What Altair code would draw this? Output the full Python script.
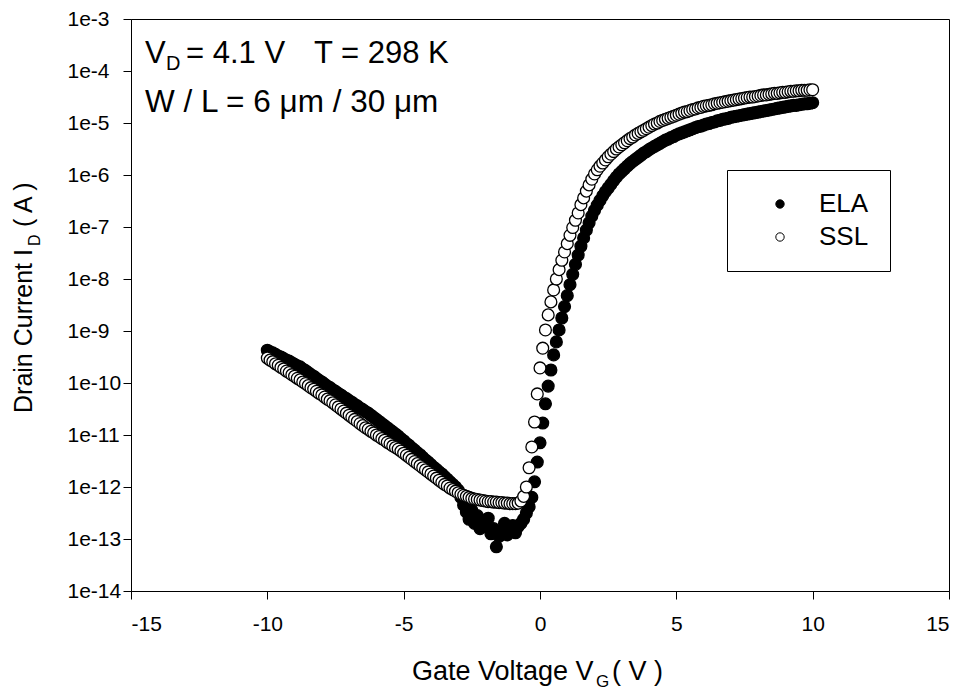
import altair as alt
import pandas as pd

# Gate sweep: -10 V to +10 V in 0.1 V steps
gate_v = [round(-10 + 0.1 * i, 1) for i in range(201)]

# log10 of drain current (A), ELA-crystallised device
ela_log = [
    -9.37, -9.40, -9.42, -9.45, -9.48, -9.50, -9.53, -9.56, -9.58, -9.61,
    -9.64, -9.67, -9.69, -9.73, -9.76, -9.80, -9.84, -9.87, -9.91, -9.95,
    -9.98, -10.02, -10.06, -10.09, -10.13, -10.16, -10.20, -10.23, -10.27, -10.30,
    -10.34, -10.37, -10.41, -10.44, -10.48, -10.51, -10.55, -10.58, -10.62, -10.66,
    -10.70, -10.74, -10.78, -10.82, -10.86, -10.90, -10.94, -10.98, -11.02, -11.07,
    -11.11, -11.16, -11.20, -11.25, -11.29, -11.34, -11.38, -11.43, -11.48, -11.52,
    -11.57, -11.62, -11.66, -11.71, -11.75, -11.80, -11.85, -11.90, -11.95, -12.00,
    -12.06, -12.20, -12.35, -12.48, -12.62, -12.45, -12.70, -12.55, -12.80, -12.66,
    -12.76, -12.60, -12.90, -12.80, -13.15, -12.95, -12.86, -12.70, -12.92, -12.84,
    -12.74, -12.88, -12.76, -12.70, -12.62, -12.50, -12.38, -12.20, -11.90, -11.52,
    -11.15, -10.77, -10.40, -10.06, -9.75, -9.46, -9.21, -8.98, -8.75, -8.53,
    -8.32, -8.11, -7.91, -7.72, -7.54, -7.37, -7.21, -7.06, -6.92, -6.79,
    -6.68, -6.58, -6.49, -6.40, -6.32, -6.25, -6.18, -6.11, -6.04, -5.98,
    -5.93, -5.88, -5.83, -5.78, -5.74, -5.70, -5.66, -5.62, -5.58, -5.55,
    -5.51, -5.48, -5.45, -5.42, -5.39, -5.36, -5.33, -5.31, -5.28, -5.26,
    -5.23, -5.21, -5.19, -5.17, -5.15, -5.13, -5.11, -5.09, -5.07, -5.06,
    -5.04, -5.02, -5.01, -4.99, -4.98, -4.96, -4.95, -4.93, -4.92, -4.91,
    -4.89, -4.88, -4.87, -4.86, -4.85, -4.84, -4.83, -4.82, -4.81, -4.80,
    -4.79, -4.78, -4.77, -4.76, -4.75, -4.74, -4.73, -4.72, -4.71, -4.70,
    -4.69, -4.68, -4.67, -4.66, -4.66, -4.65, -4.64, -4.63, -4.63, -4.62,
    -4.61,
]

# log10 of drain current (A), SSL-crystallised device
ssl_log = [
    -9.52, -9.56, -9.59, -9.63, -9.66, -9.70, -9.73, -9.77, -9.80, -9.84,
    -9.87, -9.91, -9.94, -9.98, -10.01, -10.05, -10.09, -10.12, -10.16, -10.20,
    -10.23, -10.27, -10.31, -10.34, -10.38, -10.42, -10.46, -10.50, -10.54, -10.58,
    -10.62, -10.66, -10.70, -10.74, -10.78, -10.82, -10.86, -10.89, -10.93, -10.96,
    -11.00, -11.03, -11.07, -11.10, -11.14, -11.17, -11.21, -11.24, -11.27, -11.31,
    -11.35, -11.39, -11.43, -11.47, -11.51, -11.55, -11.59, -11.63, -11.67, -11.71,
    -11.75, -11.79, -11.83, -11.87, -11.91, -11.95, -11.98, -12.02, -12.05, -12.08,
    -12.11, -12.14, -12.16, -12.18, -12.20, -12.22, -12.23, -12.24, -12.25, -12.26,
    -12.27, -12.28, -12.28, -12.29, -12.29, -12.30, -12.30, -12.31, -12.31, -12.32,
    -12.32, -12.32, -12.31, -12.27, -12.18, -12.00, -11.63, -11.23, -10.75, -10.21,
    -9.71, -9.33, -8.98, -8.69, -8.44, -8.21, -8.00, -7.82, -7.64, -7.48,
    -7.32, -7.16, -7.01, -6.87, -6.73, -6.57, -6.44, -6.31, -6.19, -6.08,
    -5.98, -5.90, -5.83, -5.77, -5.71, -5.65, -5.60, -5.55, -5.50, -5.46,
    -5.42, -5.38, -5.34, -5.30, -5.27, -5.23, -5.20, -5.17, -5.14, -5.11,
    -5.08, -5.05, -5.02, -5.00, -4.97, -4.95, -4.93, -4.91, -4.89, -4.87,
    -4.85, -4.83, -4.81, -4.79, -4.78, -4.76, -4.74, -4.73, -4.71, -4.70,
    -4.68, -4.67, -4.66, -4.65, -4.63, -4.62, -4.61, -4.60, -4.59, -4.58,
    -4.57, -4.56, -4.55, -4.54, -4.53, -4.52, -4.51, -4.50, -4.50, -4.49,
    -4.48, -4.47, -4.46, -4.46, -4.45, -4.44, -4.43, -4.43, -4.42, -4.41,
    -4.41, -4.40, -4.39, -4.39, -4.38, -4.38, -4.37, -4.37, -4.37, -4.36,
    -4.36,
]

x_ticks = [-15, -10, -5, 0, 5, 10, 15]
y_ticks = [10.0 ** e for e in range(-14, -2)]

FONT = "Liberation Sans"

rows = []
for name, series in (("ELA", ela_log), ("SSL", ssl_log)):
    for v, lg in zip(gate_v, series):
        rows.append({"vg": v, "id": 10.0 ** lg, "device": name})
df = pd.DataFrame(rows)

points = (
    alt.Chart(df)
    .mark_circle(size=140, stroke="black", strokeWidth=1.3, opacity=1)
    .encode(
        x=alt.X(
            "vg:Q",
            scale=alt.Scale(domain=[-15, 15], nice=False, zero=False),
            axis=alt.Axis(
                values=x_ticks, title=None, grid=False,
                labelExpr="'' + datum.value",
                tickSize=8, labelPadding=14, labelFontSize=21, labelFont=FONT,
                labelColor="black", domainColor="black", tickColor="black",
            ),
        ),
        y=alt.Y(
            "id:Q",
            scale=alt.Scale(type="log", domain=[1e-14, 1e-3], nice=False),
            axis=alt.Axis(
                values=y_ticks, title=None, grid=False,
                labelExpr="'1e' + round(log(datum.value) / LN10)",
                tickSize=8, labelPadding=56, labelAlign="left",
                labelFontSize=21, labelFont=FONT, labelColor="black",
                domainColor="black", tickColor="black",
            ),
        ),
        fill=alt.Fill(
            "device:N",
            scale=alt.Scale(domain=["ELA", "SSL"], range=["black", "white"]),
            legend=alt.Legend(
                title=None, orient="none", legendX=596, legendY=151,
                strokeColor="black", fillColor="white", padding=21,
                symbolType="circle", symbolSize=70, symbolStrokeColor="black",
                symbolStrokeWidth=1, symbolOffset=19, labelOffset=26,
                labelFont=FONT, labelFontSize=26, labelColor="black",
                rowPadding=7, cornerRadius=0,
            ),
        ),
    )
)


def label(text, x, y, size, angle=0):
    """A piece of free text placed in pixels relative to the plot origin."""
    return (
        alt.Chart(alt.Data(values=[{}]))
        .mark_text(
            text=text, font=FONT, fontSize=size, color="black",
            align="left", baseline="alphabetic", angle=angle,
        )
        .encode(x=alt.value(x), y=alt.value(y))
    )


texts = [
    # operating conditions
    label("V", 14, 44, 31),
    label("D", 35, 51, 20),
    label("= 4.1 V", 55, 44, 31),
    label("T = 298 K", 183, 44, 31),
    label("W / L = 6 \u03bcm / 30 \u03bcm", 14, 93, 31.5),
    # x-axis title with subscript
    label("Gate Voltage V", 281, 661, 27),
    label("G", 465, 668, 17),
    label("( V )", 481, 661, 27),
    # y-axis title with subscript
    label("Drain Current I", -99, 394, 25, angle=270),
    label("D", -91, 227, 16, angle=270),
    label("( A )", -99, 208, 25, angle=270),
]

chart = (
    alt.layer(points, *texts)
    .properties(
        width=818, height=572,
        padding={"left": 131, "top": 19, "right": 17, "bottom": 99},
        autosize=alt.AutoSizeParams(type="none"),
        background="white",
    )
    .configure_view(stroke="black", strokeWidth=1)
)

chart.save("out.html", embed_options={"renderer": "svg", "actions": False})
